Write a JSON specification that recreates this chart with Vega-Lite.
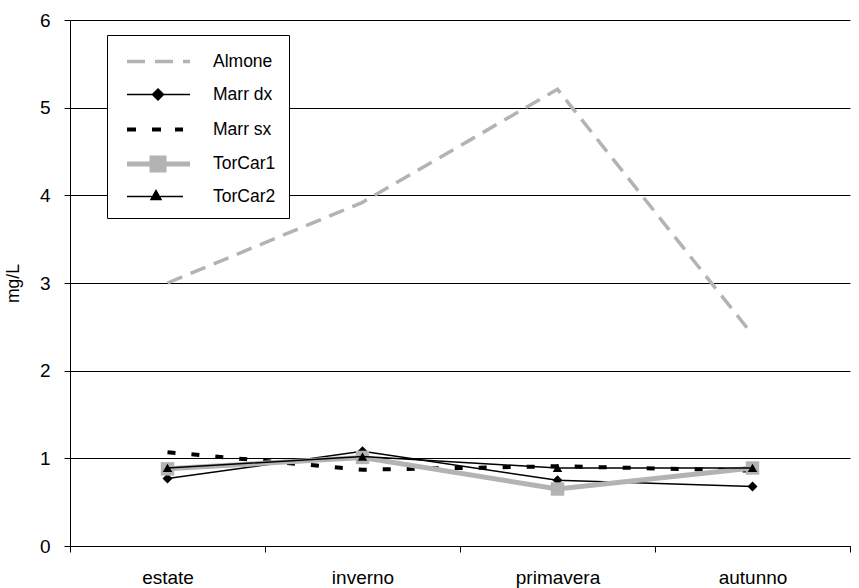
{
  "$schema": "https://vega.github.io/schema/vega-lite/v6.json",
  "width": 780,
  "height": 526,
  "autosize": {"type": "none"},
  "padding": {"left": 70, "top": 20, "right": 9, "bottom": 42},
  "background": "white",
  "config": {
    "view": {"stroke": null},
    "font": "Liberation Sans",
    "legend": {
      "orient": "none",
      "legendX": 37,
      "legendY": 15,
      "padding": 13,
      "strokeColor": "black",
      "fillColor": "white",
      "labelFont": "Liberation Sans",
      "labelFontSize": 17.5,
      "labelColor": "black",
      "labelOffset": 65,
      "symbolSize": 529,
      "rowPadding": 0,
      "gridAlign": "all",
      "symbolOpacity": 1
    }
  },
  "data": {
    "values": [
      {"season": "estate", "series": "Almone", "value": 3.0},
      {"season": "inverno", "series": "Almone", "value": 3.92},
      {"season": "primavera", "series": "Almone", "value": 5.21},
      {"season": "autunno", "series": "Almone", "value": 2.41},
      {"season": "estate", "series": "Marr dx", "value": 0.77},
      {"season": "inverno", "series": "Marr dx", "value": 1.08},
      {"season": "primavera", "series": "Marr dx", "value": 0.75},
      {"season": "autunno", "series": "Marr dx", "value": 0.68},
      {"season": "estate", "series": "Marr sx", "value": 1.07},
      {"season": "inverno", "series": "Marr sx", "value": 0.87},
      {"season": "primavera", "series": "Marr sx", "value": 0.91},
      {"season": "autunno", "series": "Marr sx", "value": 0.86},
      {"season": "estate", "series": "TorCar1", "value": 0.88},
      {"season": "inverno", "series": "TorCar1", "value": 1.01},
      {"season": "primavera", "series": "TorCar1", "value": 0.65},
      {"season": "autunno", "series": "TorCar1", "value": 0.89},
      {"season": "estate", "series": "TorCar2", "value": 0.89},
      {"season": "inverno", "series": "TorCar2", "value": 1.02},
      {"season": "primavera", "series": "TorCar2", "value": 0.89},
      {"season": "autunno", "series": "TorCar2", "value": 0.89}
    ]
  },
  "encoding": {
    "x": {
      "field": "season",
      "type": "nominal",
      "sort": ["estate", "inverno", "primavera", "autunno"],
      "scale": {"paddingInner": 0, "paddingOuter": 0},
      "axis": {
        "title": null,
        "labelAngle": 0,
        "labelFontSize": 19,
        "labelColor": "black",
        "labelPadding": 16,
        "tickBand": "extent",
        "tickSize": 6,
        "tickColor": "black",
        "domainColor": "black",
        "grid": false
      }
    },
    "y": {
      "field": "value",
      "type": "quantitative",
      "scale": {"domain": [0, 6], "nice": false},
      "axis": {
        "values": [0, 1, 2, 3, 4, 5, 6],
        "title": "mg/L",
        "titleFontSize": 17.5,
        "titleFontWeight": "normal",
        "titleColor": "black",
        "titlePadding": 17,
        "labelFontSize": 19,
        "labelColor": "black",
        "labelPadding": 14,
        "tickSize": 6,
        "tickColor": "black",
        "domainColor": "black",
        "grid": true,
        "gridColor": "black",
        "gridOpacity": 1,
        "gridWidth": 1
      }
    }
  },
  "layer": [
    {
      "transform": [{"filter": "datum.series === 'Almone'"}],
      "mark": {"type": "line", "stroke": "#b3b3b3", "strokeWidth": 3.5, "strokeDash": [16, 9], "strokeCap": "butt"}
    },
    {
      "transform": [{"filter": "datum.series === 'Marr dx'"}],
      "mark": {"type": "line", "stroke": "black", "strokeWidth": 1.5}
    },
    {
      "transform": [{"filter": "datum.series === 'Marr dx'"}],
      "mark": {"type": "point", "shape": "diamond", "filled": true, "color": "black", "size": 100, "opacity": 1}
    },
    {
      "transform": [{"filter": "datum.series === 'Marr sx'"}],
      "mark": {"type": "line", "stroke": "black", "strokeWidth": 4, "strokeDash": [8, 16], "strokeCap": "butt"}
    },
    {
      "transform": [{"filter": "datum.series === 'TorCar1'"}],
      "mark": {"type": "line", "stroke": "#b3b3b3", "strokeWidth": 5}
    },
    {
      "transform": [{"filter": "datum.series === 'TorCar1'"}],
      "mark": {"type": "point", "shape": "square", "filled": true, "color": "#b3b3b3", "size": 180, "opacity": 1}
    },
    {
      "transform": [{"filter": "datum.series === 'TorCar2'"}],
      "mark": {"type": "line", "stroke": "black", "strokeWidth": 1.5}
    },
    {
      "transform": [{"filter": "datum.series === 'TorCar2'"}],
      "mark": {"type": "point", "shape": "triangle-up", "filled": true, "color": "black", "size": 90, "opacity": 1}
    },
    {
      "mark": {"type": "point", "filled": true, "opacity": 0, "size": 529},
      "encoding": {
        "shape": {
          "field": "series", "type": "nominal",
          "scale": {"domain": ["Almone", "Marr dx", "Marr sx", "TorCar1", "TorCar2"], "range": [
            "M-0.609,0L0.957,0M1.826,0L3.391,0M4.261,0L4.87,0",
            "M-0.609,0L4.87,0M2.087,-0.478L2.565,0L2.087,0.478L1.609,0Z",
            "M-0.609,0L0.174,0M1.565,0L2.348,0M3.565,0L4.261,0",
            "M-0.609,0L4.87,0M1.565,-0.522L2.609,-0.522L2.609,0.522L1.565,0.522Z",
            "M-0.609,0L4.261,0M1.913,-0.522L2.348,0.26L1.478,0.26Z"
          ]},
          "legend": {"title": null}
        },
        "fill": {
          "field": "series", "type": "nominal",
          "scale": {"domain": ["Almone", "Marr dx", "Marr sx", "TorCar1", "TorCar2"], "range": ["#b3b3b3", "black", "black", "#b3b3b3", "black"]},
          "legend": {"title": null}
        },
        "stroke": {
          "field": "series", "type": "nominal",
          "scale": {"domain": ["Almone", "Marr dx", "Marr sx", "TorCar1", "TorCar2"], "range": ["#b3b3b3", "black", "black", "#b3b3b3", "black"]},
          "legend": {"title": null}
        },
        "strokeWidth": {
          "field": "series", "type": "nominal",
          "scale": {"type": "ordinal", "domain": ["Almone", "Marr dx", "Marr sx", "TorCar1", "TorCar2"], "range": [3.5, 1.5, 4, 5, 1.5]},
          "legend": {"title": null}
        }
      }
    }
  ]
}
